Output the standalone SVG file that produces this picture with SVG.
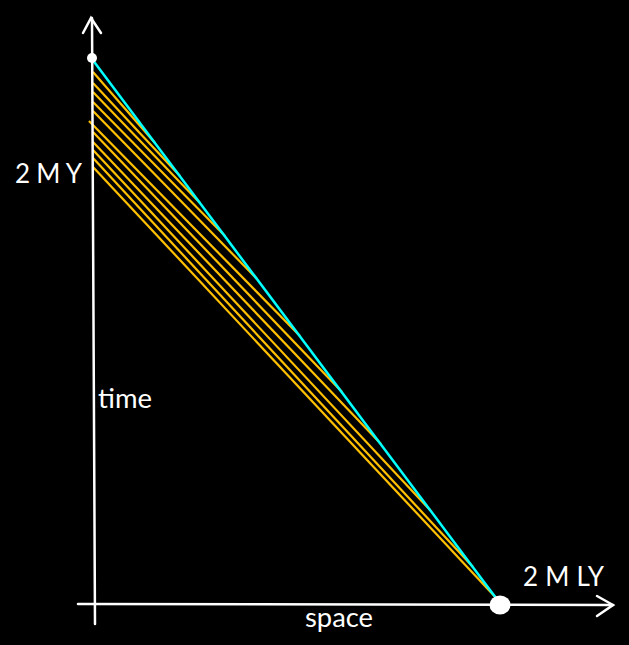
<svg xmlns="http://www.w3.org/2000/svg" width="629" height="645" viewBox="0 0 629 645">
<style>
.ax{stroke:#fff;stroke-width:2.5;fill:none;stroke-linecap:round}
.yl{stroke:#FFC000;stroke-width:2.2;fill:none}
.cy{stroke:#00FFFF;stroke-width:2.5;fill:none}
.lbl{fill:#fff;font-family:Lato,"Open Sans","Liberation Sans",sans-serif;font-size:26px}
</style>
<rect width="629" height="645" fill="#000"/>
<g id="connectors">
<line class="yl" x1="93" y1="72" x2="155" y2="143"/>
<line class="yl" x1="93" y1="83" x2="180" y2="176"/>
<line class="yl" x1="93" y1="92" x2="200" y2="203"/>
<line class="yl" x1="93" y1="102" x2="225" y2="236"/>
<line class="yl" x1="93" y1="111" x2="257" y2="279"/>
<line class="yl" x1="89" y1="121" x2="300" y2="336"/>
<line class="yl" x1="93" y1="132" x2="342" y2="392"/>
<line class="yl" x1="93" y1="142" x2="381" y2="444"/>
<line class="yl" x1="93" y1="150" x2="430" y2="510"/>
<line class="yl" x1="93" y1="158" x2="473" y2="567"/>
<line class="yl" x1="93" y1="167" x2="499" y2="601"/>
<line class="cy" x1="92" y1="59" x2="499" y2="602"/>
</g>
<g id="time-axis">
<line class="ax" x1="92" y1="18" x2="95" y2="624"/>
<polyline class="ax" points="83,33 91,18 101,33"/>
</g>
<g id="space-axis">
<line class="ax" x1="78" y1="604" x2="613" y2="605"/>
<polyline class="ax" points="597,596 613,605 597,616"/>
</g>
<g id="origin-event">
<circle cx="92" cy="58" r="5" fill="#fff"/>
</g>
<g id="far-event">
<ellipse cx="500" cy="605" rx="10.5" ry="9.5" fill="#fff"/>
</g>
<g id="labels">
<text class="lbl" x="15" y="183" textLength="67" lengthAdjust="spacing">2 M Y</text>
<text class="lbl" x="98" y="408" textLength="54" lengthAdjust="spacingAndGlyphs">time</text>
<text class="lbl" x="305" y="627" textLength="68" lengthAdjust="spacingAndGlyphs">space</text>
<text class="lbl" x="523" y="586" textLength="81" lengthAdjust="spacing">2 M LY</text>
</g>
</svg>
